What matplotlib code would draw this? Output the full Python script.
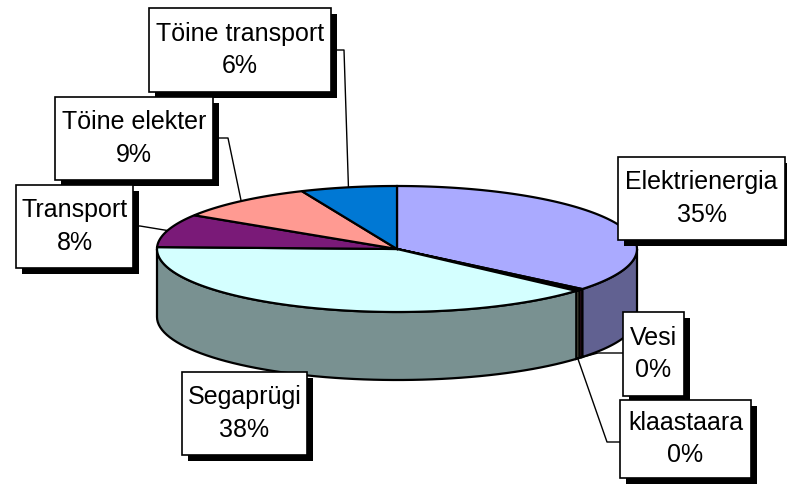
import numpy as np
import matplotlib
matplotlib.use('Agg')
import matplotlib.pyplot as plt
from matplotlib.patches import Polygon, Rectangle

# slice data, clockwise from 12 o'clock
names = ['Elektrienergia', 'Vesi', 'klaastaara', 'Segaprügi',
         'Transport', 'Töine elekter', 'Töine transport']
values = [35.5, 0.3, 0.3, 38.4, 8.4, 9.4, 6.4]
pct_text = [35, 0, 0, 38, 8, 9, 6]
top_colors = ['#aaaaff', '#993366', '#ffffcc', '#d4ffff',
              '#7a1a78', '#ff9a92', '#0078d4']

# pie geometry (pixel space)
cx, cy, rx, ry, depth = 397, 249, 240, 63, 68

# label boxes (x0, y0, x1, y1) and leader line anchor/elbow
boxes = {
    'Elektrienergia': (618, 157, 785, 240),
    'Vesi': (623, 312, 684, 396),
    'klaastaara': (620, 400, 751, 478),
    'Segaprügi': (182, 372, 307, 455),
    'Transport': (16, 185, 133, 268),
    'Töine elekter': (55, 97, 213, 180),
    'Töine transport': (149, 8, 331, 92),
}
leaders = {
    'Vesi': [(623, 353), (598, 353)],
    'klaastaara': [(620, 442), (607, 442)],
    'Transport': [(133, 226), (140, 226)],
    'Töine elekter': [(213, 138), (228, 138)],
    'Töine transport': [(331, 50), (344, 50)],
}


def pt(t, drop=0):
    r = np.radians(t)
    return cx + rx * np.cos(r), cy - ry * np.sin(r) + drop


def shade(c, f=0.57):
    rgb = matplotlib.colors.to_rgb(c)
    return tuple(v * f for v in rgb)


fig = plt.figure(figsize=(7.87, 4.87), dpi=100)
ax = fig.add_axes([0, 0, 1, 1])
ax.set_xlim(0, 787)
ax.set_ylim(487, 0)
ax.axis('off')

total = float(sum(values))
cum = np.concatenate([[0], np.cumsum(values)]) / total
starts = 90 - 360 * cum[:-1]
ends = 90 - 360 * cum[1:]

# side walls (only the front half, t in (-180, 0))
for i in range(len(values)):
    a, b = max(ends[i], -180), min(starts[i], 0)
    if a >= b:
        continue
    ts = np.linspace(b, a, 60)
    top = [pt(t) for t in ts]
    bot = [pt(t, depth) for t in ts[::-1]]
    ax.add_patch(Polygon(top + bot, closed=True, facecolor=shade(top_colors[i]),
                         edgecolor='black', lw=1.6, zorder=2))

# top face
for i in range(len(values)):
    n = max(4, int(abs(starts[i] - ends[i])))
    ts = np.linspace(starts[i], ends[i], n)
    verts = [(cx, cy)] + [pt(t) for t in ts]
    ax.add_patch(Polygon(verts, closed=True, facecolor=top_colors[i],
                         edgecolor='black', lw=1.6, zorder=3))

# labels
for i, name in enumerate(names):
    mid = (starts[i] + ends[i]) / 2
    if name in leaders:
        drop = depth if np.sin(np.radians(mid)) < 0 else 0
        pts = leaders[name] + [pt(mid, drop)]
        xs, ys = zip(*pts)
        ax.plot(xs, ys, color='black', lw=1, zorder=1)
    x0, y0, x1, y1 = boxes[name]
    ax.add_patch(Rectangle((x0 + 6, y0 + 6), x1 - x0, y1 - y0,
                           facecolor='black', edgecolor='none', zorder=4))
    ax.add_patch(Rectangle((x0, y0), x1 - x0, y1 - y0, facecolor='white',
                           edgecolor='black', lw=1.2, zorder=5))
    ax.text((x0 + x1) / 2, (y0 + y1) / 2, '%s\n%d%%' % (name, pct_text[i]),
            ha='center', va='center', fontsize=18, linespacing=1.45,
            family='Liberation Sans', zorder=6)

fig.savefig('out.png', dpi=100)
